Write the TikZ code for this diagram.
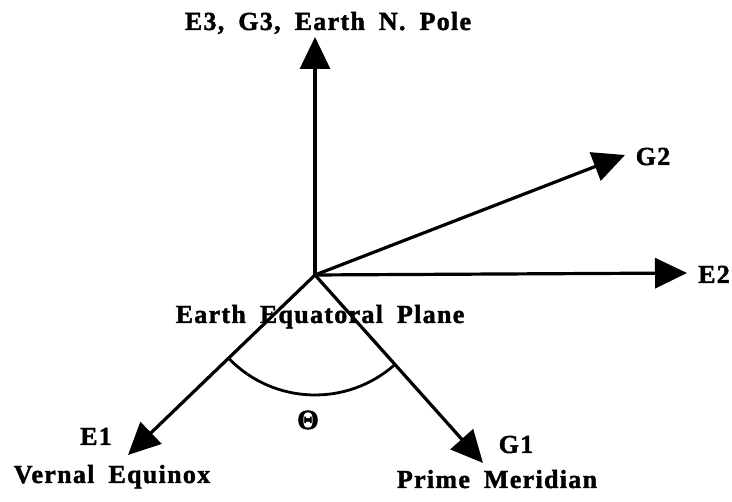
\documentclass[tikz,border=0pt]{standalone}
\usepackage{fontspec}
\setmainfont{Liberation Serif}[LetterSpace=5, WordSpace=1.8,
  BoldFeatures={FakeBold=1.6}]
\usepackage{tikz}
\usetikzlibrary{arrows.meta, calc}

\begin{document}
\begin{tikzpicture}[
  x=1pt, y=1pt,
  axis/.style={
    line width=3.2pt, -{Triangle[length=32pt, width=30pt]}
  },
  lbl/.style={
    anchor=base, inner sep=0pt,
    font=\fontsize{26}{28}\selectfont\bfseries
  },
  angl/.style={line width=2.8pt},
]
\useasboundingbox (0,0) rectangle (732,502);

%% ---- Origin and axis tips ----
\coordinate (O)  at (315,227);
\coordinate (e3) at (315,465);
\coordinate (e2) at (687,229);
\coordinate (g2) at (625,347);
\coordinate (e1) at (128,47);
\coordinate (g1) at (483,39);

%% ---- Axes ----
\draw[axis] (O) -- (e3);
\draw[axis] (O) -- (e2);
\draw[axis] (O) -- (g2);
\draw[axis] (O) -- (e1);
\draw[axis] (O) -- (g1);

%% ---- Angle between E1 and G1 ----
\draw[angl] ($(O)+(224:120)$) arc[start angle=224, end angle=312, radius=120];
\node[font=\fontsize{28}{28}\selectfont\bfseries] (theta) at (308,82) {Θ};

%% ---- Labels ----
\node[lbl] (pole)  at (328,472) {E3, G3, Earth N. Pole};
\node[lbl] (lg2)   at (653,337) {G2};
\node[lbl] (le2)   at (714,219) {E2};
\node[lbl] (plane) at (320,179) {Earth Equatoral Plane};
\node[lbl] (le1)   at (96,57)   {E1};
\node[lbl] (vern)  at (112,19)  {Vernal Equinox};
\node[lbl] (lg1)   at (516,49)  {G1};
\node[lbl] (prime) at (497,14)  {Prime Meridian};

\end{tikzpicture}
\end{document}
